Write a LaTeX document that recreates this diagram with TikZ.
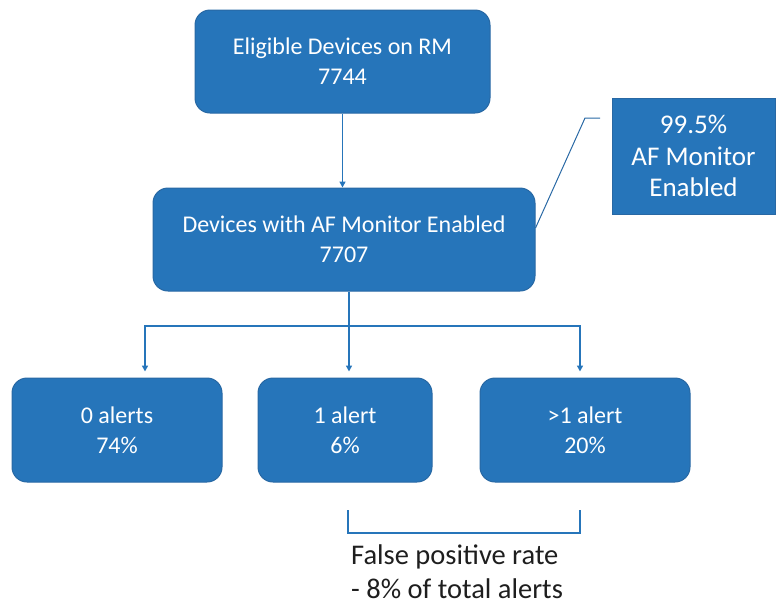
\documentclass[tikz,border=0pt]{standalone}
\usepackage{fontspec}
\setmainfont{Carlito}
\usetikzlibrary{arrows.meta}
\definecolor{boxblue}{RGB}{38,117,186}
\definecolor{edgeblue}{RGB}{40,104,164}
\definecolor{txtgray}{RGB}{30,30,30}
\begin{document}
\begin{tikzpicture}[x=1pt,y=-1pt,
  rbox/.style={draw=edgeblue, line width=1pt, fill=boxblue, rounded corners=15pt, text=white, align=center, font=\fontsize{24}{30}\selectfont, inner sep=0pt},
  sbox/.style={draw=edgeblue, line width=1pt, fill=boxblue, text=white, align=center, font=\fontsize{27}{31.5}\selectfont, inner sep=0pt},
  conn/.style={draw=boxblue, line width=1.5pt},
  arr/.style={conn, -{Triangle[length=6pt,width=6pt]}}
]
\useasboundingbox (0,0) rectangle (778,606);
\node[rbox, minimum width=295pt, minimum height=103pt] (top) at (342.5,61.5) {Eligible Devices on RM\\7744};
\node[rbox, minimum width=382pt, minimum height=103pt] (mid) at (344,239.5) {Devices with AF Monitor Enabled\\7707};
\node[sbox, minimum width=163pt, minimum height=116pt] (call) at (693.5,156) {99.5\%\\AF Monitor\\Enabled};
\node[rbox, minimum width=210pt, minimum height=104pt] (zero) at (117,430) {0 alerts\\74\%};
\node[rbox, minimum width=174pt, minimum height=104pt] (one) at (345,430) {1 alert\\6\%};
\node[rbox, minimum width=210pt, minimum height=104pt] (many) at (585,430) {>1 alert\\20\%};
\coordinate (split) at (349,326);
\coordinate (ca) at (585,118);
\coordinate (cb) at (600,118);
\coordinate (b1) at (348,510);
\coordinate (b2) at (580,510);
\draw[arr] (top.south -| 342.5,0) -- (mid.north -| 342.5,0);
\draw[conn] (mid.south -| split) -- (split);
\draw[arr] (split) -| ([yshift=6pt]zero.north -| 145,0);
\draw[arr] (split) -- ([yshift=6pt]one.north -| split);
\draw[arr] (split) -| ([yshift=6pt]many.north -| 580,0);
\draw[draw=edgeblue, line width=1pt] (mid.east |- 0,228) -- (ca) -- (cb);
\draw[conn, line width=1.2pt] (b1) -- (b1 |- 0,533) -- (b2 |- 0,533) -- (b2);
\node[anchor=north west, align=left, text=txtgray, font=\fontsize{28.5}{34}\selectfont, inner sep=0pt] (fp) at (351,544) {False positive rate\\- 8\% of total alerts};
\end{tikzpicture}
\end{document}
